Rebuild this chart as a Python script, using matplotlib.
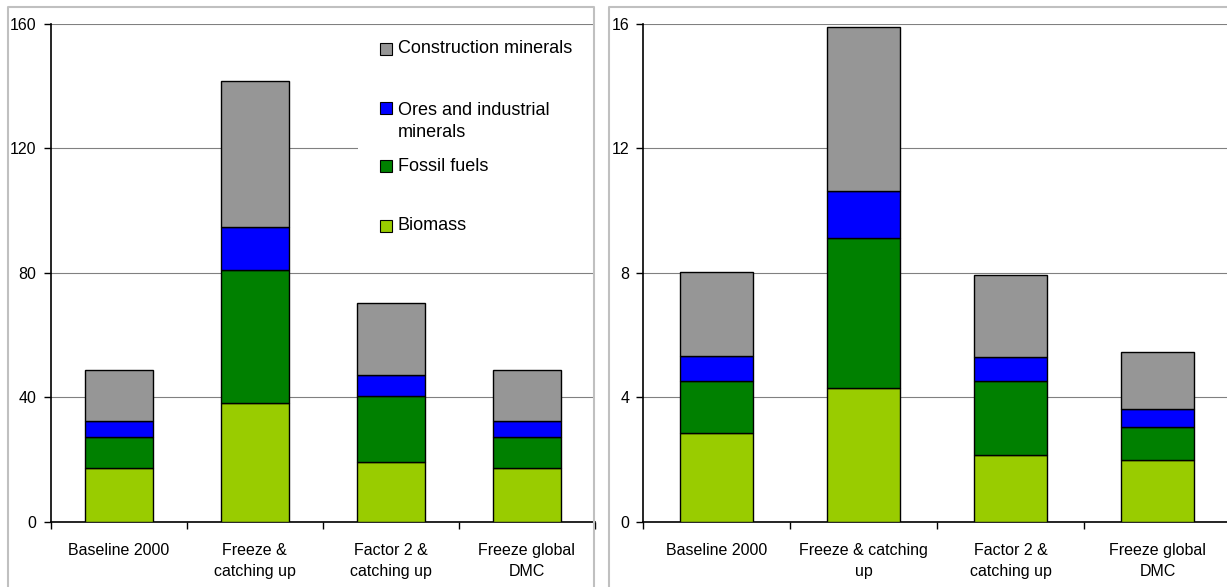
import numpy as np
import matplotlib
matplotlib.use("Agg")
import matplotlib.pyplot as plt
from matplotlib.patches import Rectangle
from matplotlib.lines import Line2D

plt.rcParams["font.family"] = ["Liberation Sans", "DejaVu Sans"]

# ── data ──────────────────────────────────────────────────────────────────────
SERIES = ["Biomass", "Fossil fuels", "Ores and industrial\nminerals", "Construction minerals"]
COLORS = ["#99CC00", "#008000", "#0000FF", "#969696"]

LABELS_LEFT = ["Baseline 2000", "Freeze &\ncatching up", "Factor 2 &\ncatching up",
               "Freeze global\nDMC"]
LABELS_RIGHT = ["Baseline 2000", "Freeze & catching\nup", "Factor 2 &\ncatching up",
                "Freeze global\nDMC"]

left_biomass = [17.4, 38.1, 19.2, 17.4]
left_fossil = [9.9, 42.7, 21.3, 9.9]
left_ores = [5.2, 13.8, 6.7, 5.2]
left_constr = [16.2, 46.9, 23.2, 16.2]

right_biomass = [2.87, 4.30, 2.16, 1.98]
right_fossil = [1.65, 4.81, 2.36, 1.07]
right_ores = [0.81, 1.52, 0.77, 0.59]
right_constr = [2.71, 5.26, 2.64, 1.83]

W, H = 1227, 587
fig = plt.figure(figsize=(W / 100, H / 100), dpi=100)


def px_axes(x0, y0, x1, y1):
    # pixel box (top-left origin) -> figure fraction rect
    return [x0 / W, 1 - y1 / H, (x1 - x0) / W, (y1 - y0) / H]


def draw_panel(ax, labels, stacks, ymax, step):
    x = np.arange(len(labels))
    bottom = np.zeros(len(labels))
    for vals, col in zip(stacks, COLORS):
        ax.bar(x, vals, 0.5, bottom=bottom, color=col, edgecolor="black",
               linewidth=1.0, zorder=3)
        bottom += np.array(vals)
    ax.set_xlim(-0.5, len(labels) - 0.5)
    ax.set_ylim(0, ymax)
    ax.set_yticks(np.arange(0, ymax + step, step))
    ax.set_xticks(x)
    ax.set_xticklabels(labels, linespacing=1.5)
    ax.set_xticks(np.arange(-0.5, len(labels)), minor=True)
    ax.tick_params(axis="x", which="major", length=0, pad=15, labelsize=11.5)
    ax.tick_params(axis="x", which="minor", length=5, width=1.0, direction="out")
    ax.tick_params(axis="y", length=5, width=1.0, pad=5, labelsize=11.5)
    ax.yaxis.grid(True, color="#808080", linewidth=0.8)
    ax.set_axisbelow(True)
    for s in ["top", "right"]:
        ax.spines[s].set_visible(False)
    ax.spines["left"].set_linewidth(1.2)
    ax.spines["bottom"].set_linewidth(1.2)


# ── left panel ────────────────────────────────────────────────────────────────
axL = fig.add_axes(px_axes(50.5, 23.5, 595, 522))
draw_panel(axL, LABELS_LEFT, [left_biomass, left_fossil, left_ores, left_constr], 160, 40)

# ── right panel ───────────────────────────────────────────────────────────────
axR = fig.add_axes(px_axes(643.3, 23.5, 1231, 522))
draw_panel(axR, LABELS_RIGHT, [right_biomass, right_fossil, right_ores, right_constr], 16, 4)

# ── legend (Excel style, inside left panel) ───────────────────────────────────
axL.add_patch(Rectangle((0.565, 0.556), 0.44, 0.43, transform=axL.transAxes,
                        facecolor="white", edgecolor="none", zorder=2, clip_on=False))
order = [3, 2, 1, 0]
handle_y = [0.949, 0.830, 0.714, 0.594]
text_y = [0.949, 0.804, 0.714, 0.594]
for i, hy, ty in zip(order, handle_y, text_y):
    axL.add_patch(Rectangle((0.605, hy - 0.012), 0.022, 0.024, transform=axL.transAxes,
                            facecolor=COLORS[i], edgecolor="black", linewidth=0.8,
                            zorder=4))
    axL.text(0.638, ty, SERIES[i], transform=axL.transAxes, fontsize=13,
             va="center", ha="left", linespacing=1.4, zorder=4)

# ── panel borders ─────────────────────────────────────────────────────────────
border = dict(color="#C0C0C0", linewidth=1.5, transform=fig.transFigure)
fig.add_artist(Line2D([8 / W, 8 / W, 594 / W, 594 / W],
                      [0, 1 - 7 / H, 1 - 7 / H, 0], **border))
fig.add_artist(Line2D([608.5 / W, 608.5 / W, 1.0],
                      [0, 1 - 7 / H, 1 - 7 / H], **border))

fig.savefig("out.png", dpi=100)
